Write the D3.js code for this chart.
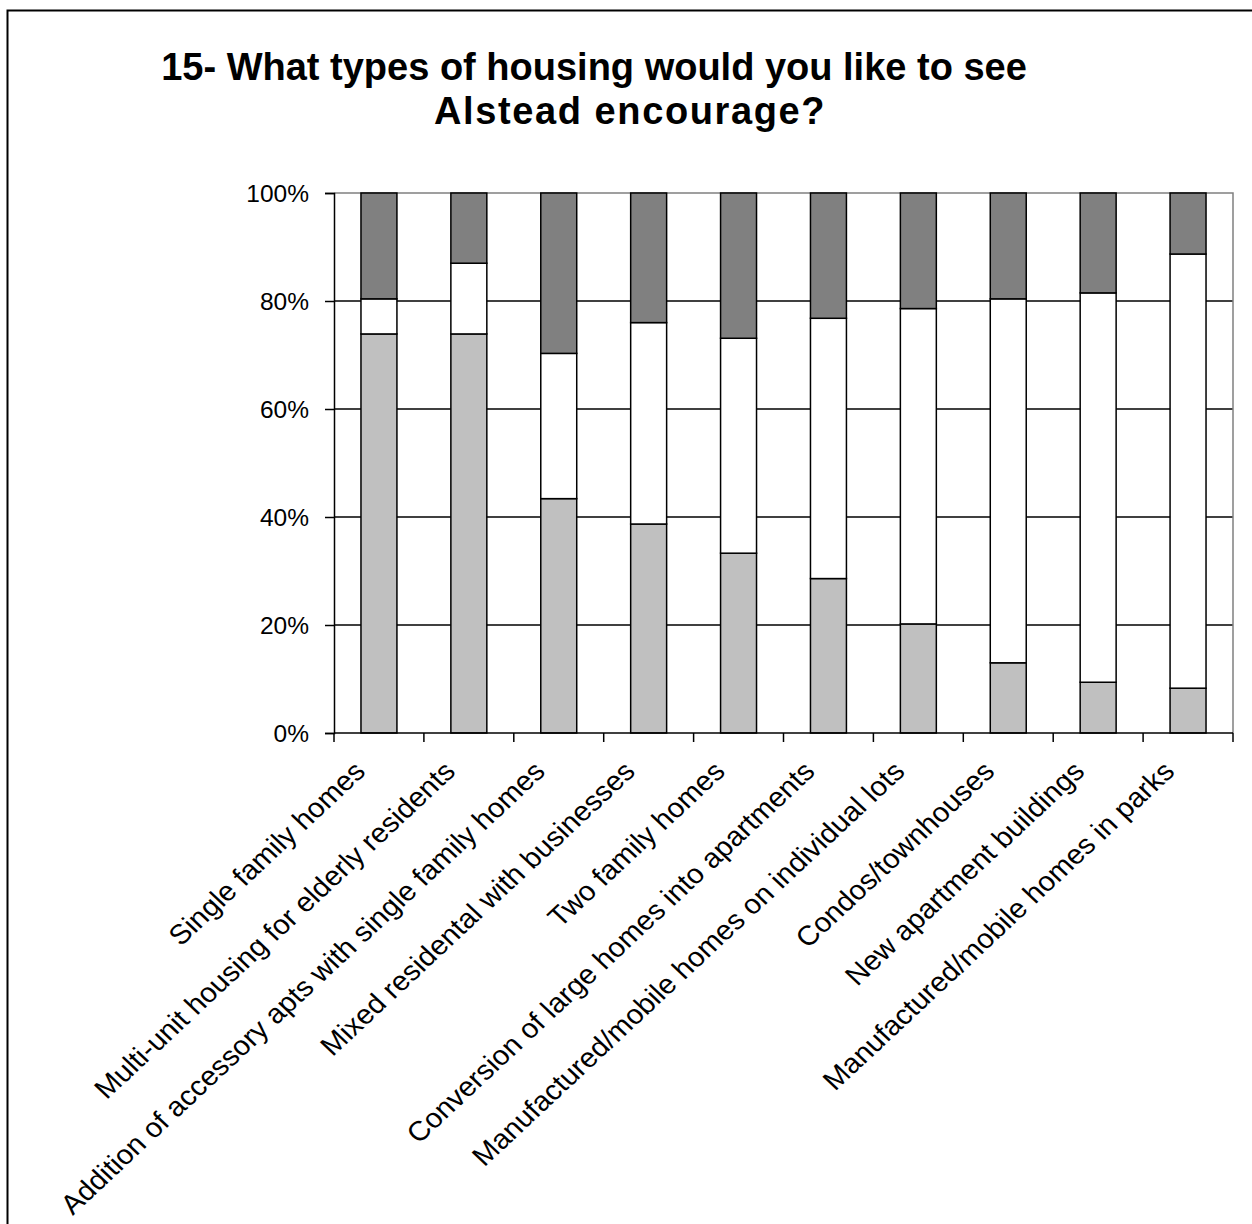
<!DOCTYPE html>
<html>
<head>
<meta charset="utf-8">
<script src="https://cdn.jsdelivr.net/npm/d3@7"></script>
<style>
  html, body { margin: 0; padding: 0; background: #ffffff; }
  svg { display: block; }
</style>
</head>
<body>
<svg id="chart" width="1252" height="1224"></svg>
<script>
const categories = [
  "Single family homes",
  "Multi-unit housing for elderly residents",
  "Addition of accessory apts with single family homes",
  "Mixed residental with businesses",
  "Two family homes",
  "Conversion of large homes into apartments",
  "Manufactured/mobile homes on individual lots",
  "Condos/townhouses",
  "New apartment buildings",
  "Manufactured/mobile homes in parks"
];
const seriesA = [73.9, 73.9, 43.4, 38.7, 33.3, 28.6, 20.2, 13.0, 9.4, 8.3];
const seriesB = [6.5, 13.1, 26.9, 37.3, 39.8, 48.2, 58.4, 67.4, 72.1, 80.4];
const seriesC = [19.6, 13.0, 29.7, 24.0, 26.9, 23.2, 21.4, 19.6, 18.5, 11.3];
const yTicks = [0, 20, 40, 60, 80, 100];
const titleLines = ["15- What types of housing would you like to see", "Alstead encourage?"];
const colors = ["#c0c0c0", "#ffffff", "#808080"];

const svg = d3.select("#chart");
const W = 1252, H = 1224;
const plot = { left: 334, right: 1233, top: 193, bottom: 733 };
const FONT = "Liberation Sans, Arial, sans-serif";

// outer frame
svg.append("rect")
  .attr("x", 7.5).attr("y", 10.5)
  .attr("width", W + 20).attr("height", H + 20)
  .attr("fill", "#fff").attr("stroke", "#000").attr("stroke-width", 2);

// title
const titleX = [594, 630];
const titleSpacing = [0, 1.6];
const title = svg.append("text")
  .attr("text-anchor", "middle")
  .attr("font-family", FONT)
  .attr("font-weight", "bold")
  .attr("font-size", 38)
  .attr("fill", "#000");
titleLines.forEach((t, i) => {
  title.append("tspan").attr("x", titleX[i]).attr("y", 80 + i * 44)
    .attr("letter-spacing", titleSpacing[i]).text(t);
});

const x = d3.scaleBand().domain(categories).range([plot.left, plot.right])
  .paddingInner(0.6).paddingOuter(0.3);
const y = d3.scaleLinear().domain([0, 100]).range([plot.bottom, plot.top]);

// gridlines
svg.append("g").selectAll("line").data(yTicks.filter(d => d > 0 && d < 100)).join("line")
  .attr("x1", plot.left).attr("x2", plot.right)
  .attr("y1", d => y(d)).attr("y2", d => y(d))
  .attr("stroke", "#000").attr("stroke-width", 1.4);
// plot top and right border (gray)
svg.append("path")
  .attr("d", `M${plot.left},${y(100)}H${plot.right}V${plot.bottom}`)
  .attr("fill", "none").attr("stroke", "#808080").attr("stroke-width", 1.5);

// stacked bars
const rows = categories.map((c, i) => ({ cat: c, A: seriesA[i], B: seriesB[i], C: seriesC[i] }));
const stacked = d3.stack().keys(["A", "B", "C"])(rows);
svg.append("g").selectAll("g").data(stacked).join("g")
  .attr("fill", (d, i) => colors[i])
  .selectAll("rect").data(d => d).join("rect")
  .attr("x", d => x(d.data.cat))
  .attr("width", x.bandwidth())
  .attr("y", d => y(d[1]))
  .attr("height", d => y(d[0]) - y(d[1]))
  .attr("stroke", "#000").attr("stroke-width", 1.5);

// y axis
const yAxis = d3.axisLeft(y).tickValues(yTicks).tickSize(9).tickPadding(16)
  .tickFormat(d => d + "%");
const gy = svg.append("g").attr("transform", `translate(${plot.left},0)`).call(yAxis);
gy.select(".domain").attr("stroke", "#000").attr("stroke-width", 1.5);
gy.selectAll(".tick line").attr("stroke", "#000").attr("stroke-width", 1.5);
gy.selectAll(".tick text")
  .attr("font-family", FONT)
  .attr("font-size", 24.5).attr("fill", "#000")
  .attr("dy", "0.36em");

// x axis line and ticks at category boundaries
const boundaries = d3.range(categories.length + 1).map(i => plot.left + i * (plot.right - plot.left) / categories.length);
svg.append("line")
  .attr("x1", plot.left).attr("x2", plot.right)
  .attr("y1", plot.bottom).attr("y2", plot.bottom)
  .attr("stroke", "#000").attr("stroke-width", 1.5);
svg.append("g").selectAll("line").data(boundaries).join("line")
  .attr("x1", d => d).attr("x2", d => d)
  .attr("y1", plot.bottom).attr("y2", plot.bottom + 9)
  .attr("stroke", "#000").attr("stroke-width", 1.5);

// category labels rotated
svg.append("g").selectAll("text").data(categories).join("text")
  .attr("transform", d => `translate(${x(d) + x.bandwidth() / 2 - 12},${plot.bottom + 40}) scale(1.07,1) rotate(-45)`)
  .attr("text-anchor", "end")
  .attr("font-family", FONT)
  .attr("font-size", 27.5).attr("fill", "#000")
  .text(d => d);
</script>
</body>
</html>
